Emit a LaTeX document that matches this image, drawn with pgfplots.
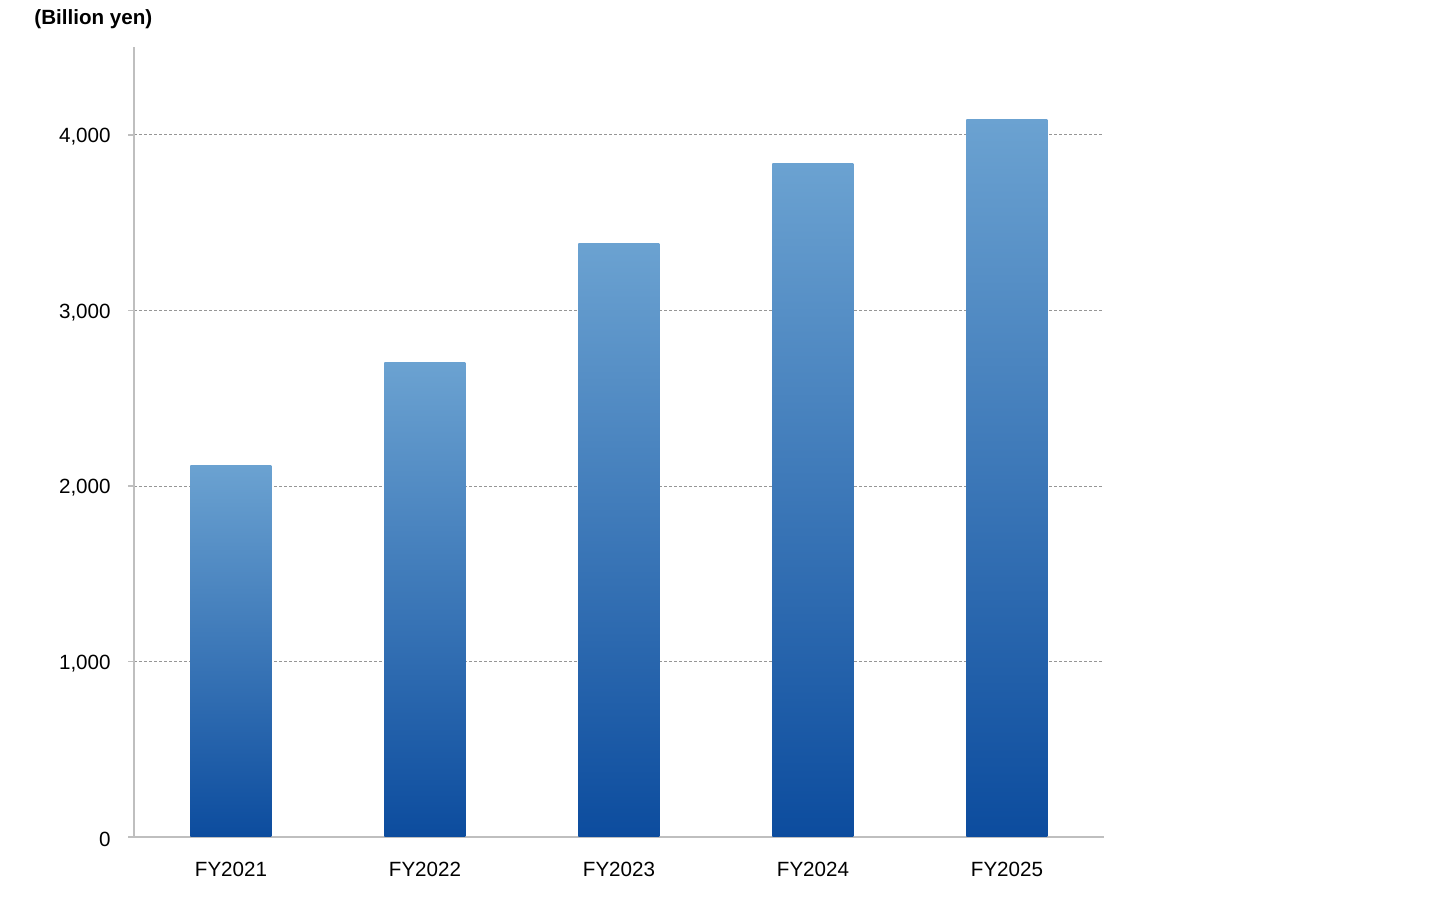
\documentclass[border=0pt]{standalone}
\usepackage{pgfplots}
\pgfplotsset{compat=1.18}
\usepackage{fontspec}
\setmainfont{Liberation Sans}

\definecolor{axisgray}{RGB}{191,191,191}
\definecolor{gridgray}{RGB}{150,150,150}
\definecolor{bartop}{RGB}{107,162,209}
\definecolor{barmid}{RGB}{96,147,200}
\definecolor{barbot}{RGB}{12,76,158}

\pgfplotsset{shadedbar/.style={ybar, bar width=40.5pt, bar shift=0pt, draw=none,
	top color=bartop, middle color=barmid, bottom color=barbot}}

\begin{document}
\begin{tikzpicture}
	\path[use as bounding box] (0,0) rectangle (718.5pt,448.5pt);
	\node[anchor=west, inner sep=0pt, font=\fontsize{10.3}{12}\selectfont\bfseries]
		at (17pt,439pt) {(Billion yen)};
	\begin{axis}[
		at={(67pt,30pt)}, anchor=south west,
		scale only axis,
		width=485pt, height=395pt,
		xmin=-0.5, xmax=4.5,
		ymin=0, ymax=4500,
		xtick={0,1,2,3,4},
		xticklabels={FY2021,FY2022,FY2023,FY2024,FY2025},
		ytick={0,1000,2000,3000,4000},
		axis x line*=bottom, axis y line*=left,
		axis line style={-, draw=axisgray, line width=0.75pt},
		tick align=outside,
		major tick length=3pt,
		ytick style={draw=axisgray, line width=0.75pt},
		xtick style={draw=none},
		ymajorgrids,
		grid style={gridgray, line width=0.35pt, dash pattern=on 1.5pt off 1pt},
		ticklabel style={font=\fontsize{10.3}{12}\selectfont},
		yticklabel style={inner sep=0pt, xshift=-8.5pt, yshift=-1pt},
		xticklabel style={anchor=north, inner sep=0pt, yshift=-9.5pt},
		/pgf/number format/.cd, 1000 sep={,}, assume math mode=true,
	]
	% one plot per bar so that each bar gets its own gradient
	\addplot[shadedbar] coordinates {(0,2114)};
	\addplot[shadedbar] coordinates {(1,2701)};
	\addplot[shadedbar] coordinates {(2,3379)};
	\addplot[shadedbar] coordinates {(3,3835)};
	\addplot[shadedbar] coordinates {(4,4085)};
	\end{axis}
\end{tikzpicture}
\end{document}
